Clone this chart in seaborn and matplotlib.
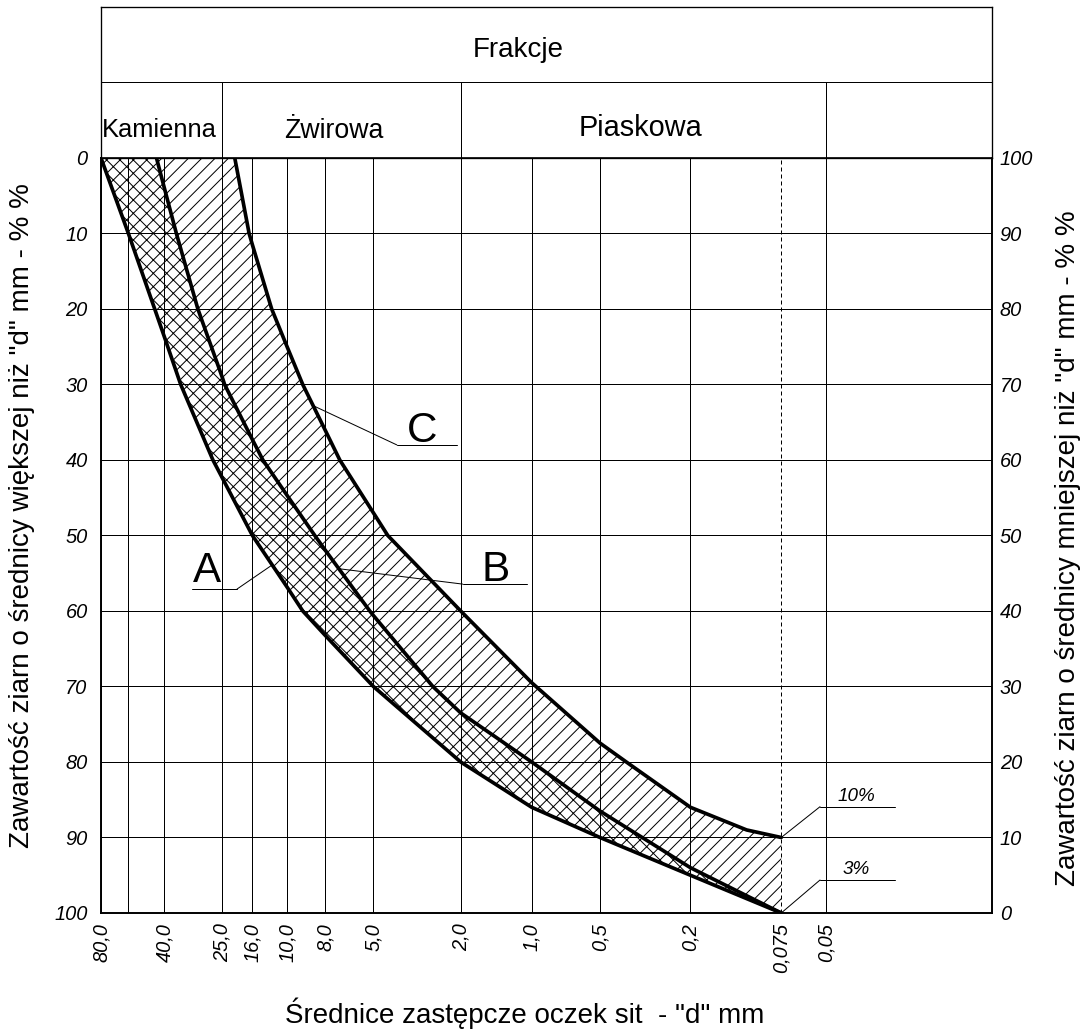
import numpy as np
import matplotlib
matplotlib.use("Agg")
import matplotlib.pyplot as plt
import matplotlib.transforms as mtransforms
from matplotlib.ticker import NullLocator
import seaborn as sns

sns.set_theme(style="white", rc={"hatch.linewidth": 0.9, "hatch.color": "black",
                                 "axes.edgecolor": "black", "axes.linewidth": 1.5,
                                 "text.color": "black", "axes.labelcolor": "black",
                                 "xtick.color": "black", "ytick.color": "black"})
plt.rcParams["font.family"] = ["Liberation Sans", "DejaVu Sans"]

# sieve sizes that have a grid line, and their labels
grid_sizes = [80, 63, 40, 25, 16, 10, 8, 5, 2, 1, 0.5, 0.2, 0.075, 0.05]
grid_labels = ["80,0", "", "40,0", "25,0", "16,0", "10,0", "8,0", "5,0",
               "2,0", "1,0", "0,5", "0,2", "0,075", "0,05"]
fraction_bounds = [25, 2, 0.05]

# the sieve axis of this nomogram is only roughly logarithmic:
# distance of each sieve from the 80 mm sieve (beyond the ends: plain log)
scale_sizes = [1000, 80, 63, 40, 25, 16, 10, 8, 5, 2, 1, 0.5, 0.2, 0.075, 0.05, 0.001]
scale_dist = [-248.6, 0, 27.4, 63.4, 121.4, 151.4, 186.4, 224, 272.4, 359.7,
              430.7, 499, 589.4, 680.2, 725.4, 1110.4]

# grading curves: sieve size d [mm] -> passing [%]
a_d = [80, 63, 45.2, 40, 35.05, 27, 25, 16, 10, 9.13, 8, 5, 2, 1, 0.5, 0.2, 0.075]
a_pass = [100, 90, 80, 76.3, 70, 60, 57.6, 50, 43.1, 40, 36.8, 30, 20, 14, 10, 5, 0]
b_d = [44.2, 40, 36.3, 30.5, 25, 24.2, 16, 13.9, 10, 8.5, 8, 5.18, 5, 2.68, 2, 1, 0.5, 0.2, 0.075]
b_pass = [100, 96, 90, 80, 70.9, 70, 62.7, 60, 55.25, 50, 48.1, 40, 39.4, 30, 26.5, 20, 13.5, 6, 0]
c_d = [20.8, 16.8, 16, 12.35, 10, 9.13, 8, 6.93, 5, 4.3, 2, 1, 0.5, 0.383, 0.2, 0.109, 0.075]
c_pass = [100, 90, 88.5, 80, 74.9, 70, 64, 60, 53, 50, 40, 30.5, 22.5, 20, 14, 11, 10]

_u = -np.log10(scale_sizes)


def sieve_fwd(d):
    # increasing with d; the axis is inverted through the limits
    return -np.interp(-np.log10(np.clip(d, 1e-9, None)), _u, scale_dist)


def sieve_inv(x):
    return 10 ** -np.interp(-np.asarray(x), scale_dist, _u)


def d_at(ds, ps, p):
    # size on a curve where it reaches p % passing
    x = np.interp(p, ps[::-1], sieve_fwd(np.array(ds))[::-1])
    return sieve_inv(x)


fig = plt.figure(figsize=(13.6, 12.9125), dpi=80)
ax = fig.add_axes([0.09283, 0.11617, 0.81893, 0.73088])
ax_h = fig.add_axes([0.09283, 0.84705, 0.81893, 0.14618], sharex=ax)

ax.set_xscale("function", functions=(sieve_fwd, sieve_inv))
ax.set_xlim(80, 0.0093)
ax.set_ylim(0, 100)

# hatched zones
ax.fill(np.r_[a_d, b_d[::-1]], np.r_[a_pass, b_pass[::-1]],
        fill=False, hatch="xx", edgecolor="black", lw=0, zorder=1)
ax.fill(np.r_[b_d, c_d[::-1]], np.r_[b_pass, c_pass[::-1]],
        fill=False, hatch="//", edgecolor="black", lw=0, zorder=1)

# grid
for d in grid_sizes:
    ls = (0, (4, 3)) if d == 0.075 else "-"
    ax.axvline(d, color="black", lw=0.9, ls=ls, zorder=2)
for p in range(10, 100, 10):
    ax.axhline(p, color="black", lw=0.9, zorder=2)

# curves
for ds, ps in [(a_d, a_pass), (b_d, b_pass), (c_d, c_pass)]:
    sns.lineplot(x=ds, y=ps, color="black", lw=3.3, sort=False, ax=ax, zorder=4)

# ticks
tick_font = dict(fontsize=18, fontstyle="italic")
ax.set_xticks(grid_sizes)
ax.set_xticklabels(grid_labels, rotation=90, **tick_font)
ax.xaxis.set_minor_locator(NullLocator())
ax.tick_params(axis="x", length=0, pad=9)

pct = list(range(0, 101, 10))
ax.set_yticks(pct)
ax.set_yticklabels([str(100 - v) for v in pct], **tick_font)
ax.tick_params(axis="y", length=0, pad=12)

ax2 = ax.twinx()
ax2.set_ylim(0, 100)
ax2.set_yticks(pct)
ax2.set_yticklabels([str(v) for v in pct], **tick_font)
ax2.tick_params(axis="y", length=0, pad=7)
ax2.grid(False)

# axis titles
ax.set_xlabel('Średnice zastępcze oczek sit  - "d" mm', fontsize=25, va="center")
ax.xaxis.set_label_coords(0.476, -0.1325)
ax.set_ylabel('Zawartość ziarn o średnicy większej niż "d" mm - % %',
              fontsize=25, va="center")
ax.yaxis.set_label_coords(-0.0887, 0.527)
ax2.set_ylabel('Zawartość ziarn o średnicy mniejszej niż "d" mm - % %',
               fontsize=25, va="center", rotation=90)
ax2.yaxis.set_label_coords(1.0853, 0.483)

# curve labels with leader lines
blend = mtransforms.blended_transform_factory(ax.transAxes, ax.transData)
leaders = [
    ("A", a_d, a_pass, 46.1, 0.1526, 0.1021, 42.9, 0.119, 43.9),
    ("B", b_d, b_pass, 45.6, 0.406, 0.478, 43.56, 0.443, 44.0),
    ("C", c_d, c_pass, 67.2, 0.332, 0.3996, 62.0, 0.360, 62.4),
]
for name, ds, ps, p0, x1, x2, y1, xt, yt in leaders:
    ax.annotate("", xy=(d_at(ds, ps, p0), p0), xytext=(x1, y1), textcoords=blend,
                arrowprops=dict(arrowstyle="-", color="black", lw=0.9,
                                shrinkA=0, shrinkB=0), zorder=5)
    ax.plot([x1, x2], [y1, y1], color="black", lw=0.9, transform=blend, zorder=5)
    ax.text(xt, yt, name, transform=blend, ha="center", va="baseline",
            fontsize=38, zorder=6)

pct_notes = [("10%", c_d[-1], c_pass[-1], 14.08, 14.9),
             ("3%", a_d[-1], a_pass[-1], 4.37, 5.2)]
for txt, d0, p0, y1, yt in pct_notes:
    ax.annotate("", xy=(d0, p0), xytext=(0.807, y1), textcoords=blend,
                arrowprops=dict(arrowstyle="-", color="black", lw=0.9,
                                shrinkA=0, shrinkB=0), zorder=5)
    ax.plot([0.807, 0.891], [y1, y1], color="black", lw=0.9, transform=blend, zorder=5)
    ax.text(0.848, yt, txt, transform=blend, ha="center", va="baseline",
            fontsize=17, fontstyle="italic", zorder=6)

# header with fractions
ax_h.set_ylim(0, 1)
ax_h.set_yticks([])
ax_h.tick_params(axis="x", which="both", length=0, labelbottom=False)
ax_h.axhline(0.503, color="black", lw=0.9)
for d in fraction_bounds:
    ax_h.axvline(d, ymax=0.503, color="black", lw=0.9)
ax_h.text(0.468, 0.671, "Frakcje", transform=ax_h.transAxes, ha="center",
          va="baseline", fontsize=25)
ax_h.text(0.001, 0.139, "Kamienna", transform=ax_h.transAxes, ha="left",
          va="baseline", fontsize=23)
ax_h.text(0.2615, 0.132, "Żwirowa", transform=ax_h.transAxes, ha="center",
          va="baseline", fontsize=24)
ax_h.text(0.605, 0.145, "Piaskowa", transform=ax_h.transAxes, ha="center",
          va="baseline", fontsize=26)
for s in ax_h.spines.values():
    s.set_linewidth(1.2)

fig.savefig("out.png", dpi=80, facecolor="white")
